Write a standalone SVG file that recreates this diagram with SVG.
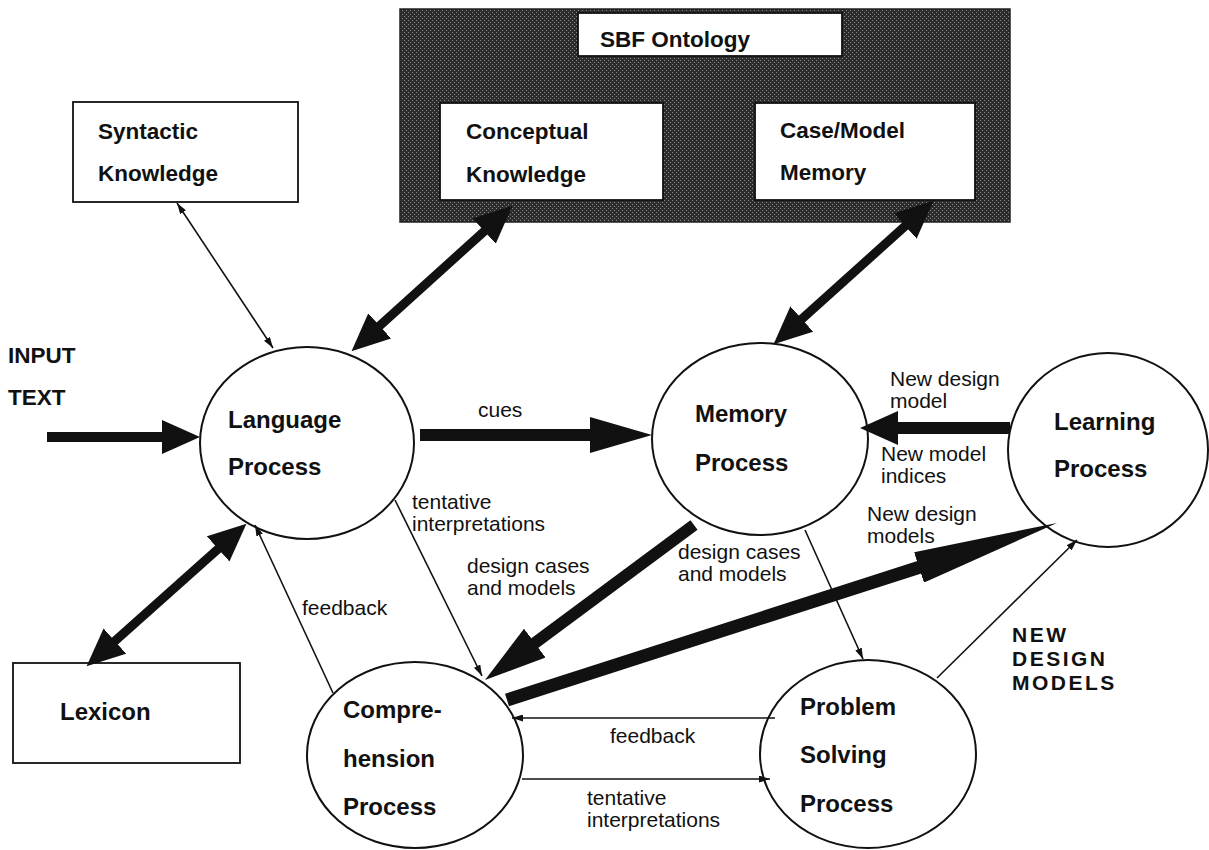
<svg xmlns="http://www.w3.org/2000/svg" width="1209" height="850" viewBox="0 0 1209 850">
<style>
.node{fill:#fff;stroke:#111;stroke-width:2}
.box{fill:#fff;stroke:#111;stroke-width:1.8}
.nl{font-family:"Liberation Sans",Arial,sans-serif;font-weight:bold;font-size:24px;fill:#111}
.bl{font-family:"Liberation Sans",Arial,sans-serif;font-weight:bold;font-size:22.5px;fill:#111}
.lb{font-family:"Liberation Sans",Arial,sans-serif;font-size:21px;fill:#111}
.big{font-family:"Liberation Sans",Arial,sans-serif;font-weight:bold;font-size:21px;letter-spacing:2.5px;fill:#111}
.thin{stroke:#111;stroke-width:1.6;fill:none}
.thick{stroke:#111;fill:none}
</style>
<defs>
<pattern id="dk" width="4" height="4" patternUnits="userSpaceOnUse">
<rect width="4" height="4" fill="#2c2c2c"/>
<rect x="0" y="0" width="1" height="1" fill="#8a8a8a"/>
<rect x="2" y="2" width="1" height="1" fill="#8a8a8a"/>
</pattern>
<marker id="mh" markerUnits="userSpaceOnUse" markerWidth="38" markerHeight="34" viewBox="0 0 38 34" refX="2" refY="17" orient="auto-start-reverse">
<path d="M0,0 L38,17 L0,34 Z" fill="#111"/>
</marker>
<marker id="ml" markerUnits="userSpaceOnUse" markerWidth="62" markerHeight="36" viewBox="0 0 62 36" refX="2" refY="18" orient="auto-start-reverse">
<path d="M0,0 L62,18 L0,36 Z" fill="#111"/>
</marker>
<marker id="mw" markerUnits="userSpaceOnUse" markerWidth="145" markerHeight="32" viewBox="0 0 145 32" refX="2" refY="16" orient="auto-start-reverse">
<path d="M0,0 L145,16 L0,32 Z" fill="#111"/>
</marker>
<marker id="ms" markerUnits="userSpaceOnUse" markerWidth="11" markerHeight="7" viewBox="0 0 11 7" refX="11" refY="3.5" orient="auto-start-reverse">
<path d="M0,0 L11,3.5 L0,7 Z" fill="#111"/>
</marker>
</defs>
<rect width="1209" height="850" fill="#fff"/>

<g id="sbf-ontology">
<rect x="400" y="9" width="610" height="213" fill="url(#dk)" stroke="#222" stroke-width="1.5"/>
<rect x="578" y="13" width="264" height="43" class="box" stroke-width="1"/>
<text x="600" y="47" class="bl">SBF Ontology</text>
</g>
<g id="conceptual-knowledge">
<rect x="440" y="103" width="223" height="97" class="box" stroke-width="1"/>
<text x="466" y="139" class="bl">Conceptual</text>
<text x="466" y="182" class="bl">Knowledge</text>
</g>
<g id="case-model-memory">
<rect x="755" y="103" width="220" height="97" class="box" stroke-width="1"/>
<text x="780" y="138" class="bl">Case/Model</text>
<text x="780" y="180" class="bl">Memory</text>
</g>
<g id="syntactic-knowledge">
<rect x="73" y="102" width="225" height="100" class="box"/>
<text x="98" y="139" class="bl">Syntactic</text>
<text x="98" y="181" class="bl">Knowledge</text>
</g>
<g id="lexicon">
<rect x="13" y="663" width="227" height="100" class="box"/>
<text x="60" y="720" class="nl">Lexicon</text>
</g>
<g id="input-text">
<text x="8" y="363" class="bl" font-size="22">INPUT</text>
<text x="8" y="405" class="bl" font-size="22">TEXT</text>
</g>
<g id="language-process">
<ellipse cx="307" cy="443" rx="107" ry="96" class="node"/>
<text x="228" y="428" class="nl">Language</text>
<text x="228" y="475" class="nl">Process</text>
</g>
<g id="memory-process">
<ellipse cx="760" cy="439" rx="108" ry="96" class="node"/>
<text x="695" y="422" class="nl">Memory</text>
<text x="695" y="471" class="nl">Process</text>
</g>
<g id="learning-process">
<ellipse cx="1108" cy="450" rx="100" ry="97" class="node"/>
<text x="1054" y="430" class="nl">Learning</text>
<text x="1054" y="477" class="nl">Process</text>
</g>
<g id="comprehension-process">
<ellipse cx="415" cy="755" rx="108" ry="93" class="node"/>
<text x="343" y="718" class="nl">Compre-</text>
<text x="343" y="767" class="nl">hension</text>
<text x="343" y="815" class="nl">Process</text>
</g>
<g id="problem-solving-process">
<ellipse cx="868" cy="754" rx="108" ry="94" class="node"/>
<text x="800" y="715" class="nl">Problem</text>
<text x="800" y="763" class="nl">Solving</text>
<text x="800" y="812" class="nl">Process</text>
</g>

<g id="connectors">
<line x1="177" y1="203" x2="273" y2="348" class="thin" marker-start="url(#ms)" marker-end="url(#ms)"/>
<line x1="378.2" y1="327.2" x2="485.8" y2="229.8" class="thick" stroke-width="9" marker-start="url(#mh)" marker-end="url(#mh)"/>
<line x1="800.3" y1="320.3" x2="906.7" y2="224.7" class="thick" stroke-width="9" marker-start="url(#mh)" marker-end="url(#mh)"/>
<line x1="219.6" y1="547.6" x2="113.4" y2="642.4" class="thick" stroke-width="9" marker-start="url(#mh)" marker-end="url(#mh)"/>
<line x1="47" y1="437" x2="164" y2="437" class="thick" stroke-width="10" marker-end="url(#mh)"/>
<line x1="420" y1="435" x2="592" y2="435" class="thick" stroke-width="12" marker-end="url(#ml)"/>
<line x1="1010" y1="428" x2="896" y2="428" class="thick" stroke-width="12" marker-end="url(#mh)"/>
<line x1="694" y1="525" x2="533.2" y2="644.3" class="thick" stroke-width="12" marker-end="url(#ml)"/>
<line x1="507" y1="700" x2="920.9" y2="566.8" class="thick" stroke-width="13" marker-end="url(#mw)"/>
<line x1="805" y1="530" x2="863" y2="659" class="thin" marker-end="url(#ms)"/>
<line x1="937" y1="678" x2="1077" y2="540" class="thin" marker-end="url(#ms)"/>
<line x1="395" y1="500" x2="482" y2="676" class="thin" marker-end="url(#ms)"/>
<line x1="333" y1="693" x2="255" y2="525" class="thin" marker-end="url(#ms)"/>
<line x1="775" y1="718" x2="512" y2="718" class="thin" marker-end="url(#ms)"/>
<line x1="522" y1="779" x2="770" y2="779" class="thin" marker-end="url(#ms)"/>
<text x="478" y="417" class="lb">cues</text>
<text x="412" y="509" class="lb">tentative</text>
<text x="412" y="531" class="lb">interpretations</text>
<text x="467" y="573" class="lb">design cases</text>
<text x="467" y="595" class="lb">and models</text>
<text x="678" y="559" class="lb">design cases</text>
<text x="678" y="581" class="lb">and models</text>
<text x="302" y="615" class="lb">feedback</text>
<text x="610" y="743" class="lb">feedback</text>
<text x="587" y="805" class="lb">tentative</text>
<text x="587" y="827" class="lb">interpretations</text>
<text x="890" y="386" class="lb">New design</text>
<text x="890" y="408" class="lb">model</text>
<text x="881" y="461" class="lb">New model</text>
<text x="881" y="483" class="lb">indices</text>
<text x="867" y="521" class="lb">New design</text>
<text x="867" y="543" class="lb">models</text>
<text x="1012" y="642" class="big">NEW</text>
<text x="1012" y="666" class="big">DESIGN</text>
<text x="1012" y="690" class="big">MODELS</text>
</g>
</svg>
